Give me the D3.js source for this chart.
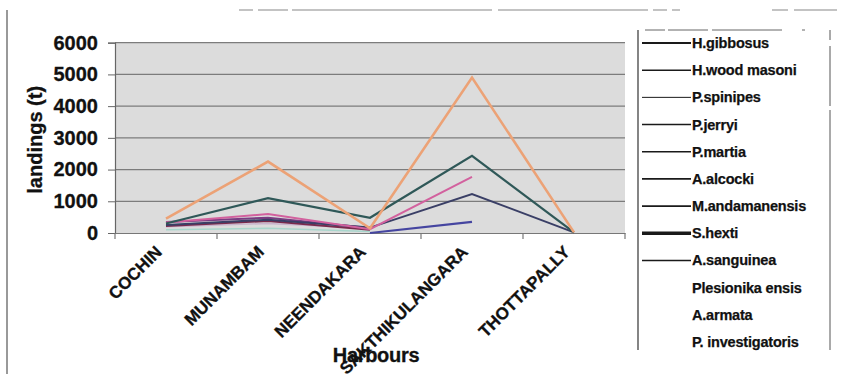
<!DOCTYPE html>
<html>
<head>
<meta charset="utf-8">
<script src="https://cdn.jsdelivr.net/npm/d3@7"></script>
<style>
  html, body { margin: 0; padding: 0; background: #fff; }
  svg { display: block; font-family: "Liberation Sans", Arial, sans-serif; }
</style>
</head>
<body>
<svg id="chart" width="849" height="382"></svg>
<script>
// ---- data ----
const harbours = ["COCHIN", "MUNAMBAM", "NEENDAKARA", "SAKTHIKULANGARA", "THOTTAPALLY"];
const yTicks = [0, 1000, 2000, 3000, 4000, 5000, 6000];
const speciesNames = ["H.gibbosus", "H.wood masoni", "P.spinipes", "P.jerryi", "P.martia", "A.alcocki",
  "M.andamanensis", "S.hexti", "A.sanguinea", "Plesionika ensis", "A.armata", "P. investigatoris"];
const hGibbosus       = [250, 420, 170, 1230, 20];
const hWoodMasoni     = [330, 600, 120, 1770, null];
const pSpinipes       = [200, 300, 150, null, null];
const pJerryi         = [300, 1100, 480, 2430, 20];
const pMartia         = [350, 480, 160, null, null];
const aAlcocki        = [220, 380, 100, null, null];
const mAndamanensis   = [null, null, 0, 350, null];
const sHexti          = [450, 2250, 150, 4900, 20];
const aSanguinea      = [100, 150, 50, null, null];
const plesionikaEnsis = [null, null, null, null, null];
const aArmata         = [null, null, null, null, null];
const pInvestigatoris = [null, null, null, null, null];
const seriesValues = [hGibbosus, hWoodMasoni, pSpinipes, pJerryi, pMartia, aAlcocki,
  mAndamanensis, sHexti, aSanguinea, plesionikaEnsis, aArmata, pInvestigatoris];

// ---- styles ----
const colors = ["#3a3f66", "#d2619e", "#c9b3cc", "#2f5858", "#7a3c82", "#7a2a4c",
  "#4545a0", "#eca276", "#a8d6cc", "#ffffff", "#ffffff", "#ffffff"];
const widths = [2, 2, 1.5, 2.2, 2, 2, 2.2, 2.6, 1.5, 1, 1, 1];
const legendWidths = [2, 1.5, 1, 1.5, 1.5, 1.8, 1.8, 3.5, 1.5, 0, 0, 0];

const svg = d3.select("#chart");
const L = 115, R = 625, T = 42.7, B = 233;

// scan frame artifacts
svg.append("line").attr("x1", 7).attr("x2", 7).attr("y1", 10).attr("y2", 374)
  .attr("stroke", "#555").attr("stroke-width", 1.2);
svg.append("line").attr("x1", 239).attr("x2", 680).attr("y1", 10).attr("y2", 10)
  .attr("stroke", "#888").attr("stroke-width", 1.2).attr("stroke-dasharray", "14,5,30,4,200,6,150,5");
svg.append("line").attr("x1", 772).attr("x2", 837).attr("y1", 10).attr("y2", 10)
  .attr("stroke", "#888").attr("stroke-width", 1.2).attr("stroke-dasharray", "16,6,60");

const x = d3.scaleBand().domain(harbours).range([L, R]);
const y = d3.scaleLinear().domain([0, 6000]).range([B, T]);

// plot background
svg.append("rect").attr("x", L).attr("y", T).attr("width", R - L).attr("height", B - T)
  .attr("fill", "#dcdcdc");

// gridlines
svg.append("g").selectAll("line").data(yTicks.filter(d => d > 0)).join("line")
  .attr("x1", L).attr("x2", R).attr("y1", d => y(d)).attr("y2", d => y(d))
  .attr("stroke", "#7c7c7c").attr("stroke-width", 1.3);

// y axis
const yAxis = svg.append("g").attr("transform", `translate(${L},0)`)
  .call(d3.axisLeft(y).tickValues(yTicks).tickSize(7).tickPadding(10).tickFormat(d3.format("d")));
yAxis.select(".domain").attr("stroke", "#666").attr("stroke-width", 1.2);
yAxis.selectAll(".tick line").attr("stroke", "#666");
yAxis.selectAll("text").attr("font-size", 20).attr("font-weight", "bold").attr("fill", "#111")
  .attr("stroke", "#111").attr("stroke-width", 0.3)
  .attr("font-family", "Liberation Sans, Arial, sans-serif");

// x axis
const xAxis = svg.append("g").attr("transform", `translate(0,${B})`)
  .call(d3.axisBottom(x).tickSize(0).tickFormat(""));
xAxis.select(".domain").attr("stroke", "#777").attr("stroke-width", 1.2);
const bounds = [L].concat(harbours.map(h => x(h) + x.bandwidth()));
svg.append("g").selectAll("line").data(bounds).join("line")
  .attr("x1", d => d).attr("x2", d => d).attr("y1", B).attr("y2", B + 6)
  .attr("stroke", "#777").attr("stroke-width", 1.2);

// x tick labels (rotated)
svg.append("g").selectAll("text").data(harbours).join("text")
  .attr("transform", d => `translate(${x(d) + x.bandwidth() / 2 - 3},${B + 20}) rotate(-45)`)
  .attr("text-anchor", "end")
  .attr("font-size", 17).attr("font-weight", "bold").attr("fill", "#111")
  .attr("stroke", "#111").attr("stroke-width", 0.3)
  .text(d => d);

// axis titles
svg.append("text").attr("transform", `translate(42,${(T + B) / 2 + 2}) rotate(-90)`)
  .attr("text-anchor", "middle").attr("font-size", 20).attr("font-weight", "bold").attr("fill", "#111")
  .attr("stroke", "#111").attr("stroke-width", 0.3)
  .text("landings (t)");
svg.append("text").attr("x", 376).attr("y", 362)
  .attr("text-anchor", "middle").attr("font-size", 20).attr("font-weight", "bold").attr("fill", "#111")
  .attr("stroke", "#111").attr("stroke-width", 0.3)
  .attr("letter-spacing", "-0.3")
  .text("Harbours");

// lines
const line = d3.line()
  .defined(d => d.v !== null)
  .x(d => x(d.h) + x.bandwidth() / 2)
  .y(d => y(d.v));
const order = [2, 8, 5, 4, 0, 6, 1, 3, 7];
const plot = svg.append("g");
order.forEach(i => {
  const pts = harbours.map((h, j) => ({ h, v: seriesValues[i][j] }));
  plot.append("path").datum(pts).attr("d", line)
    .attr("fill", "none").attr("stroke", colors[i]).attr("stroke-width", widths[i])
    .attr("stroke-linejoin", "miter");
});

// legend
const lg = svg.append("g");
lg.append("line").attr("x1", 638).attr("x2", 638).attr("y1", 30).attr("y2", 350)
  .attr("stroke", "#333").attr("stroke-width", 1.2);
lg.append("line").attr("x1", 645).attr("x2", 828).attr("y1", 30).attr("y2", 30)
  .attr("stroke", "#666").attr("stroke-width", 1).attr("stroke-dasharray", "20,3,40,4,70");
lg.append("line").attr("x1", 830).attr("x2", 830).attr("y1", 30).attr("y2", 350)
  .attr("stroke", "#555").attr("stroke-width", 1).attr("stroke-dasharray", "10,6,60,4,300");
const ly = d3.scalePoint().domain(speciesNames).range([43, 342]);
speciesNames.forEach((s, i) => {
  if (legendWidths[i] > 0) {
    lg.append("line").attr("x1", 642).attr("x2", 691).attr("y1", ly(s)).attr("y2", ly(s))
      .attr("stroke", "#1a1a1a").attr("stroke-width", legendWidths[i]);
  }
  lg.append("text").attr("x", 692).attr("y", ly(s) + 5)
    .attr("font-size", 14.5).attr("font-weight", "bold").attr("fill", "#111")
    .attr("stroke", "#111").attr("stroke-width", 0.25)
    .attr("letter-spacing", "-0.2")
    .text(s);
});
</script>
</body>
</html>
